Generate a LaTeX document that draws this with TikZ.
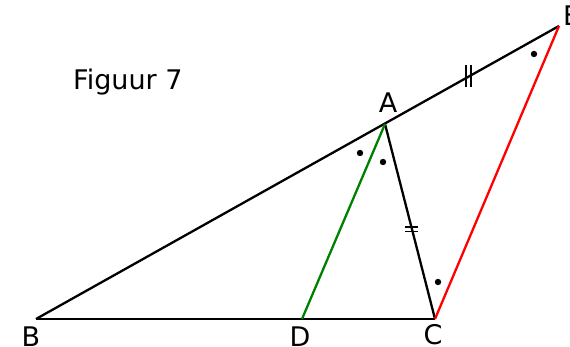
\documentclass[tikz,border=0pt]{standalone}
\usepackage{fontspec}
\setmainfont{DejaVu Sans}
\begin{document}
\begin{tikzpicture}[x=1pt,y=1pt,
  seg/.style={line width=2.3pt},
  tick/.style={line width=1.4pt},
  lbl/.style={inner sep=0pt,font=\fontsize{27}{29}\selectfont},
  dotmark/.style={fill=black,draw=none}]
\useasboundingbox (0,0) rectangle (570,347);
\coordinate (B) at (36,28);
\coordinate (C) at (435,28);
\coordinate (D) at (302,28);
\coordinate (A) at (385,223);
\coordinate (E) at (559,321);
\draw[seg] (B) -- (C);
\draw[seg] (B) -- (E);
\draw[seg] (A) -- (C);
\draw[seg,color={rgb,255:red,0;green,128;blue,0}] (A) -- (D);
\draw[seg,color=red] (C) -- (E);
% tick marks
\draw[tick] (466,260) -- (466,282);
\draw[tick] (471,260) -- (471,282);
\draw[tick] (405,120) -- (418,120);
\draw[tick] (405,115.5) -- (418,115.5);
% dots
\fill[dotmark] (360,194) circle (3.2);
\fill[dotmark] (383,185) circle (3.2);
\fill[dotmark] (534,293) circle (3.2);
\fill[dotmark] (438,65) circle (3.2);
% labels
\node[lbl,anchor=base] (lA) at (388,234) {A};
\node[lbl,anchor=base west] (lE) at (563,321) {E};
\node[lbl,anchor=base] (lB) at (31,0) {B};
\node[lbl,anchor=base] (lD) at (300,0) {D};
\node[lbl,anchor=base] (lC) at (433,2) {C};
\node[lbl,anchor=base west] (fig) at (73,257) {Figuur 7};
\end{tikzpicture}
\end{document}
